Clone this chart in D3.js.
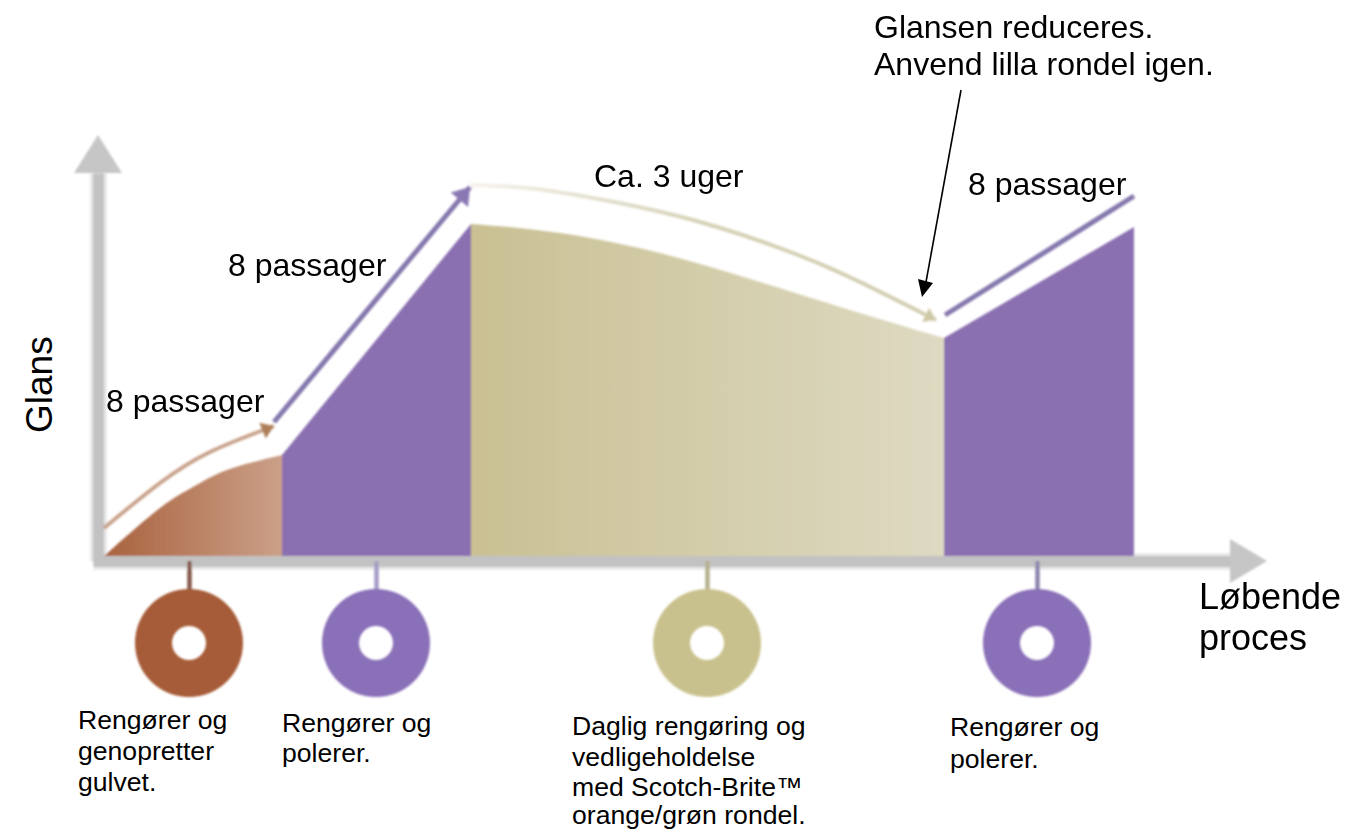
<!DOCTYPE html>
<meta charset="utf-8">
<style>
	html, body { margin: 0; background: #fff; }
	svg { display: block; }
	text { font-family: "Liberation Sans", Arial, sans-serif; fill: #000; }
	.axis .domain { stroke: #c2c2c2; stroke-width: 11; }
	.halo .domain { stroke: #e8e8e8; stroke-width: 17; }
</style>
<svg width="1355" height="830"></svg>
<script src="https://d3js.org/d3.v7.min.js"></script>
<script>
	// glans areas: x = process position, y = gloss
	var brownX = [0, 56, 89, 123, 178];
	var brownY = [0, 48, 69, 86, 101];
	var purple1X = [178, 367];
	var purple1Y = [101, 332];
	var tanX = [367, 456, 556, 656, 756, 840];
	var tanY = [332, 323, 303, 274, 243, 218];
	var purple2X = [840, 1030];
	var purple2Y = [218, 329];

	// trend lines above the areas
	var brownLineX = [0, 56, 106, 170];
	var brownLineY = [28, 73, 104, 130];
	var purpleLineX = [170, 366];
	var purpleLineY = [134, 369];
	var tanLineX = [366, 423, 489, 589, 689, 756, 832];
	var tanLineY = [371, 368, 358, 336, 303, 274, 236];
	var lastLineX = [841, 1030];
	var lastLineY = [241, 360];

	// rondels under the axis
	var rondelX = [85, 272, 603, 933];
	var rondelColors = ["#a65b37", "#8a6fb8", "#c9c18d", "#8a6fb8"];
	var stemColors = ["#85594a", "#a59bc6", "#b4b08e", "#8d84ad"];

	var passLabels = ["8 passager", "8 passager", "8 passager"];
	var topNote = ["Glansen reduceres.", "Anvend lilla rondel igen."];
	var xLabel = ["Løbende", "proces"];
	var captions = [
		["Rengører og", "genopretter", "gulvet."],
		["Rengører og", "polerer."],
		["Daglig rengøring og", "vedligeholdelse", "med Scotch-Brite™", "orange/grøn rondel."],
		["Rengører og", "polerer."]
	];

	var svg = d3.select("svg");

	var x = d3.scaleLinear().domain([-11, 1126]).range([93, 1230]);
	var y = d3.scaleLinear().domain([-5, 383]).range([561, 173]);

	var defs = svg.append("defs");

	function gradient(id, stops) {
		var g = defs.append("linearGradient").attr("id", id);
		stops.forEach(function(c, i) {
			g.append("stop").attr("offset", (i / (stops.length - 1) * 100) + "%").attr("stop-color", c);
		});
	}
	gradient("brownFill", ["#a9623e", "#cba088"]);
	gradient("tanFill", ["#c9c093", "#dedac2"]);
	gradient("tanStroke", ["#f4f2ea", "#d6d2b8", "#d2cdb0"]);

	// soft edges, the original is a blurry scan
	defs.append("filter").attr("id", "soft")
		.append("feGaussianBlur").attr("stdDeviation", 1);

	var marks = svg.append("g").attr("filter", "url(#soft)");

	var area = d3.area()
		.x(function(d) { return x(d[0]); })
		.y0(y(0))
		.y1(function(d) { return y(d[1]); })
		.curve(d3.curveNatural);

	var line = d3.line()
		.x(function(d) { return x(d[0]); })
		.y(function(d) { return y(d[1]); })
		.curve(d3.curveNatural);

	// axes first, areas sit on top
	function drawAxes(cls) {
		var gx = marks.append("g")
			.attr("class", cls)
			.attr("transform", "translate(0," + y(-5) + ")")
			.call(d3.axisBottom(x).tickValues(rondelX).tickSize(30).tickSizeOuter(0).tickFormat(""));
		gx.selectAll(".tick line")
			.attr("stroke", function(d, i) { return stemColors[i]; })
			.attr("stroke-width", 4);
		marks.append("g")
			.attr("class", cls)
			.attr("transform", "translate(" + x(-6) + ",0)")
			.call(d3.axisLeft(y).tickValues([]).tickSizeOuter(0));
	}
	drawAxes("axis halo");
	drawAxes("axis");

	marks.append("path")
		.attr("fill", "#c6c6c6")
		.attr("d", "M" + x(1126) + "," + (y(-5) - 22) + "L" + (x(1126) + 37) + "," + y(-5) + "L" + x(1126) + "," + (y(-5) + 22) + "Z");
	marks.append("path")
		.attr("fill", "#c6c6c6")
		.attr("d", "M" + (x(-6) - 24) + "," + y(383) + "L" + x(-6) + "," + (y(383) - 38) + "L" + (x(-6) + 24) + "," + y(383) + "Z");

	function zip(a, b) { return a.map(function(v, i) { return [v, b[i]]; }); }

	marks.append("path").attr("fill", "url(#brownFill)").attr("d", area(zip(brownX, brownY)));
	marks.append("path").attr("fill", "#8a70b0").attr("d", area(zip(purple1X, purple1Y)));
	marks.append("path").attr("fill", "url(#tanFill)").attr("d", area(zip(tanX, tanY)));
	marks.append("path").attr("fill", "#8a70b0").attr("d", area(zip(purple2X, purple2Y)));

	function trend(px, py, color, width) {
		marks.append("path")
			.attr("fill", "none")
			.attr("stroke", color)
			.attr("stroke-width", width)
			.attr("d", line(zip(px, py)));
	}

	function head(px, py, color, size) {
		var n = px.length - 1;
		var x1 = x(px[n]), y1 = y(py[n]);
		var a = Math.atan2(y1 - y(py[n - 1]), x1 - x(px[n - 1]));
		var pts = [[x1, y1],
			[x1 - size * Math.cos(a - 0.6), y1 - size * Math.sin(a - 0.6)],
			[x1 - size * Math.cos(a + 0.6), y1 - size * Math.sin(a + 0.6)]];
		marks.append("polygon").attr("fill", color).attr("points", pts.join(" "));
	}

	trend(brownLineX, brownLineY, "#c9a38c", 4);
	head(brownLineX, brownLineY, "#ad7f58", 15);
	trend(purpleLineX, purpleLineY, "#8577ad", 5);
	head(purpleLineX, purpleLineY, "#8a78b4", 20);
	trend(tanLineX, tanLineY, "url(#tanStroke)", 4);
	head(tanLineX, tanLineY, "#cfc9a8", 14);
	trend(lastLineX, lastLineY, "#8577ad", 5);

	// rondels
	var arc = d3.arc().innerRadius(17).outerRadius(54).startAngle(0).endAngle(2 * Math.PI);
	marks.selectAll(".rondel")
		.data(rondelX)
		.enter().append("path")
			.attr("class", "rondel")
			.attr("transform", function(d) { return "translate(" + x(d) + ",643)"; })
			.attr("fill", function(d, i) { return rondelColors[i]; })
			.attr("d", arc);

	// black pointer
	svg.append("line")
		.attr("x1", 961).attr("y1", 90).attr("x2", 926).attr("y2", 282)
		.attr("stroke", "#000").attr("stroke-width", 1.6);
	svg.append("polygon")
		.attr("fill", "#000")
		.attr("points", "922,297 918,279 933,283");

	// texts
	function label(lines, tx, baselines, size) {
		lines.forEach(function(t, i) {
			svg.append("text")
				.attr("x", tx).attr("y", baselines[i])
				.attr("font-size", size)
				.text(t);
		});
	}

	label(topNote, 874, [38, 75], 32);
	label(["Ca. 3 uger"], 594, [187], 32);
	label([passLabels[0]], 106, [412], 32);
	label([passLabels[1]], 228, [276], 32);
	label([passLabels[2]], 968, [195], 32);
	label(xLabel, 1199, [609, 650], 36);

	svg.append("text")
		.attr("transform", "translate(52,433) rotate(-90)")
		.attr("font-size", 37)
		.text("Glans");

	label(captions[0], 78, [729, 760, 791], 26.6);
	label(captions[1], 282, [732, 762], 26.6);
	label(captions[2], 572, [735, 766, 796, 824], 26.6);
	label(captions[3], 950, [736, 768], 26.6);
</script>
